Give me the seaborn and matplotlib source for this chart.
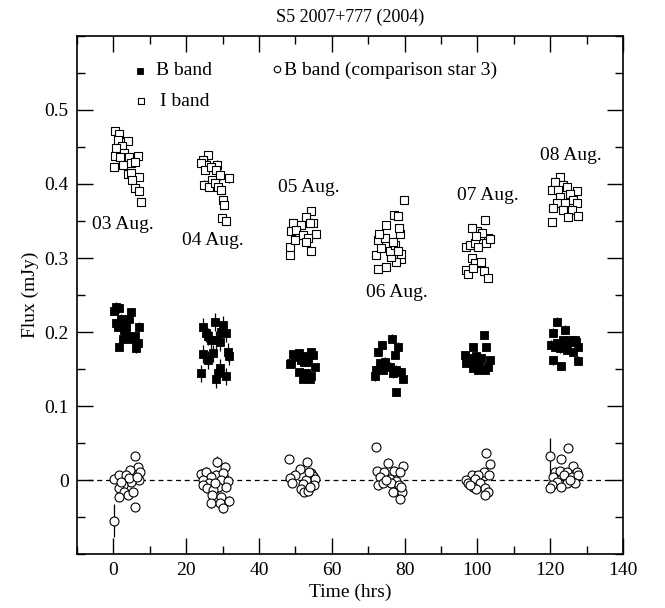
import numpy as np
import pandas as pd
import matplotlib
matplotlib.use("Agg")
import matplotlib.pyplot as plt
from matplotlib.ticker import MultipleLocator
import seaborn as sns

# ---------------- data ----------------
# B band (filled squares): time (hrs), flux (mJy)
b_t = [0.73, 1.65, 0.27, 4.85, 2.1, 4.4, 0.73, 3.5, 1.2, 7.15, 3.0, 3.5, 2.57, 3.9, 4.85, 5.8, 1.65, 6.7, 6.2,
       24.75, 25.5, 26.9, 28.2, 27.8, 30.1, 30.8, 29.2, 24.6, 26.0, 27.3, 31.4, 31.7, 24.1, 28.05, 29.2, 28.7, 31.0, 26.0, 29.6,
       49.3, 51.1, 48.85, 48.4, 53.0, 54.3, 54.8, 53.4, 55.3, 51.1, 53.0, 54.3, 52.1, 53.9, 52.5, 50.2, 51.6,
       76.6, 73.9, 72.7, 78.2, 77.3, 74.5, 73.2, 75.9, 72.2, 71.8, 74.1, 77.7, 79.1, 79.6, 76.8, 77.7,
       101.8, 98.8, 102.5, 96.5, 97.9, 99.7, 101.1, 103.4, 97.0, 98.8, 100.2, 102.0, 102.9, 98.4, 100.5, 99.3,
       121.9, 124.0, 120.7, 120.1, 121.8, 123.6, 125.4, 126.8, 122.7, 124.5, 126.3, 127.7, 120.7, 122.9, 127.7, 121.3, 125.0, 127.0]
b_f = [0.234, 0.232, 0.229, 0.227, 0.218, 0.218, 0.212, 0.209, 0.207, 0.207, 0.203, 0.198, 0.191, 0.194, 0.191, 0.194, 0.180, 0.185, 0.178,
       0.207, 0.198, 0.189, 0.189, 0.214, 0.209, 0.198, 0.187, 0.170, 0.162, 0.171, 0.173, 0.167, 0.144, 0.137, 0.151, 0.144, 0.140, 0.194, 0.200,
       0.170, 0.171, 0.158, 0.157, 0.167, 0.173, 0.169, 0.160, 0.153, 0.146, 0.144, 0.140, 0.137, 0.137, 0.160, 0.166, 0.162,
       0.191, 0.182, 0.173, 0.180, 0.169, 0.160, 0.158, 0.153, 0.149, 0.140, 0.149, 0.149, 0.146, 0.137, 0.144, 0.119,
       0.196, 0.180, 0.180, 0.169, 0.165, 0.167, 0.165, 0.162, 0.158, 0.151, 0.149, 0.149, 0.153, 0.160, 0.158, 0.162,
       0.214, 0.203, 0.199, 0.183, 0.185, 0.189, 0.189, 0.189, 0.178, 0.176, 0.173, 0.180, 0.162, 0.154, 0.161, 0.180, 0.186, 0.186]
# typical error per night (03 ... 08 Aug.)
b_err_night = [0.006, 0.012, 0.004, 0.006, 0.004, 0.006]

# I band (open squares)
i_t = [0.55, 1.47, 1.2, 3.9, 2.4, 0.73, 3.0, 0.55, 1.83, 4.4, 6.7, 2.75, 4.85, 5.8, 0.27, 3.9, 4.85, 7.15, 5.1, 6.05, 6.96, 7.6,
       25.9, 24.6, 25.5, 24.1, 28.5, 25.3, 26.9, 28.05, 29.2, 31.7, 27.1, 25.0, 26.4, 27.8, 28.7, 29.6, 30.1, 30.5, 29.8, 31.0,
       54.4, 53.0, 54.8, 55.6, 49.3, 51.6, 53.9, 48.9, 50.2, 48.4, 49.8, 52.1, 53.4, 54.4, 53.0, 48.4,
       72.7, 75.0, 72.2, 79.1, 77.7, 76.4, 73.6, 75.9, 79.1, 77.3, 78.7, 72.7, 74.5, 76.8, 78.2, 72.9, 79.8, 77.1, 78.2, 75.0, 78.5,
       97.0, 97.9, 99.3, 100.2, 101.1, 102.9, 102.5, 98.4, 99.3, 101.1, 97.0, 97.5, 98.8, 101.8, 102.8, 99.9, 101.4, 103.4, 102.0, 98.6, 99.5,
       122.7, 121.3, 123.6, 120.4, 122.2, 124.5, 127.3, 125.4, 122.7, 121.8, 124.0, 126.3, 127.3, 120.8, 123.6, 125.9, 124.9, 127.7, 120.4]
i_f = [0.471, 0.468, 0.459, 0.458, 0.451, 0.448, 0.442, 0.438, 0.437, 0.437, 0.438, 0.426, 0.428, 0.430, 0.423, 0.414, 0.415, 0.410, 0.405, 0.394, 0.391, 0.376,
       0.439, 0.432, 0.426, 0.428, 0.426, 0.419, 0.423, 0.419, 0.412, 0.408, 0.405, 0.399, 0.396, 0.401, 0.396, 0.392, 0.378, 0.372, 0.354, 0.350,
       0.363, 0.356, 0.347, 0.333, 0.347, 0.345, 0.347, 0.336, 0.338, 0.315, 0.324, 0.331, 0.327, 0.309, 0.322, 0.304,
       0.285, 0.288, 0.304, 0.298, 0.295, 0.302, 0.313, 0.309, 0.306, 0.318, 0.333, 0.324, 0.327, 0.321, 0.310, 0.333, 0.378, 0.358, 0.357, 0.345, 0.340,
       0.315, 0.318, 0.320, 0.315, 0.331, 0.327, 0.320, 0.300, 0.293, 0.295, 0.284, 0.279, 0.286, 0.283, 0.273, 0.336, 0.334, 0.325, 0.351, 0.341, 0.330,
       0.410, 0.403, 0.399, 0.392, 0.392, 0.396, 0.390, 0.387, 0.383, 0.374, 0.374, 0.378, 0.374, 0.367, 0.365, 0.365, 0.356, 0.357, 0.349]
i_err_night = [0.005, 0.006, 0.005, 0.005, 0.005, 0.005]

# B band comparison star 3 (open circles)
c_t = [0.07, 1.47, 6.05, 6.87, 7.4, 7.15, 4.58, 3.48, 4.85, 2.57, 1.65, 3.0, 3.9, 1.47, 5.5, 5.8, 0.07, 2.1, 4.4, 6.4,
       28.4, 30.7, 24.1, 25.5, 28.1, 26.9, 30.1, 24.6, 29.6, 31.4, 26.4, 24.6, 28.7, 31.0, 25.7, 27.3, 27.1, 29.6, 26.9, 29.2, 31.7, 30.1, 27.8,
       48.2, 51.3, 53.2, 49.8, 48.4, 49.1, 54.4, 54.8, 55.3, 53.0, 52.1, 55.0, 51.6, 52.5, 53.4, 54.1, 53.7,
       72.1, 75.4, 79.6, 72.4, 74.3, 77.1, 78.7, 73.2, 75.9, 77.7, 72.7, 74.1, 76.4, 78.5, 76.8, 79.4, 78.8, 75.0, 78.9,
       102.5, 103.4, 101.8, 103.1, 98.6, 100.2, 96.8, 97.5, 99.3, 100.8, 98.8, 99.7, 102.0, 102.9, 102.0, 97.9,
       119.9, 124.9, 123.1, 126.2, 121.3, 122.7, 124.7, 127.3, 120.7, 123.8, 125.9, 127.7, 121.8, 124.5, 126.8, 120.4, 122.9, 119.9, 125.4]
c_f = [0.002, 0.0068, 0.0325, 0.018, 0.0104, 0.0, 0.013, 0.0068, -0.0023, -0.0068, -0.011, -0.0158, -0.0203, -0.0225, -0.0158, -0.037, -0.055, -0.0023, 0.0023, 0.0045,
       0.025, 0.017, 0.0081, 0.011, 0.0068, 0.0045, 0.009, 0.0, 0.0, -0.0009, -0.0045, -0.0068, -0.009, -0.009, -0.011, -0.0135, -0.0203, -0.0234, -0.0315, -0.0306, -0.0284, -0.038, -0.0045,
       0.029, 0.0144, 0.024, 0.0068, 0.0023, -0.0036, 0.0099, 0.0054, 0.0009, 0.0, -0.0054, -0.0068, -0.0126, -0.0158, -0.015, -0.009, 0.011,
       0.045, 0.0225, 0.0189, 0.0122, 0.0113, 0.0126, 0.0113, 0.0045, 0.0009, -0.0009, -0.0068, -0.0045, -0.0045, -0.0068, -0.0158, -0.0158, -0.026, 0.0, -0.009,
       0.037, 0.021, 0.0113, 0.0068, 0.0068, 0.0068, 0.0, -0.0036, 0.0009, -0.0045, -0.009, -0.0126, -0.0113, -0.0158, -0.0203, -0.0068,
       0.0324, 0.0428, 0.0279, 0.0189, 0.0113, 0.0126, 0.0113, 0.0113, 0.0036, 0.0068, 0.0045, 0.0068, -0.0023, -0.0045, -0.0045, -0.0068, -0.009, -0.0113, 0.0]
c_err_night = [0.004, 0.007, 0.005, 0.005, 0.003, 0.004]
# a few comparison-star points with large error bars
c_big_err_t = [0.07, 119.9]
c_big_err_f = [-0.055, 0.0324]
c_big_err = [0.022, 0.025]

night_labels = ["03 Aug.", "04 Aug.", "05 Aug.", "06 Aug.", "07 Aug.", "08 Aug."]
night_label_x = [2.5, 27.2, 53.6, 77.8, 102.9, 125.7]
night_label_y = [0.345, 0.324, 0.395, 0.254, 0.385, 0.439]

title = "S5 2007+777 (2004)"
x_label = "Time (hrs)"
y_label = "Flux (mJy)"
x_ticks = [0, 20, 40, 60, 80, 100, 120, 140]
y_ticks = [0, 0.1, 0.2, 0.3, 0.4, 0.5]
x_lim = (-10, 140)
y_lim = (-0.1, 0.6)
zero_line_span = (-7, 136)


def frame(t, f, err_night):
    d = pd.DataFrame({"t": t, "f": f})
    night = np.clip(np.round(d["t"] / 24.0).astype(int), 0, 5)
    d["e"] = np.asarray(err_night)[night]
    return d


# ---------------- plotting ----------------
sns.set_style("ticks")
plt.rcParams["font.family"] = ["Liberation Serif", "DejaVu Serif"]
plt.rcParams["text.color"] = "black"
plt.rcParams["axes.labelcolor"] = "black"
plt.rcParams["xtick.color"] = "black"
plt.rcParams["ytick.color"] = "black"

df_b = frame(b_t, b_f, b_err_night)
df_i = frame(i_t, i_f, i_err_night)
df_c = frame(c_t, c_f, c_err_night)
for bt, bf, be in zip(c_big_err_t, c_big_err_f, c_big_err):
    df_c.loc[(df_c["t"] == bt) & (df_c["f"] == bf), "e"] = be

fig = plt.figure(figsize=(6.65, 6.08), dpi=100)
ax = fig.add_axes([0.1158, 0.0888, 0.821, 0.852])

ax.hlines(0, zero_line_span[0], zero_line_span[1], colors="black", linestyles=(0, (4, 3)), linewidth=0.9, zorder=1)

for d in (df_c, df_i, df_b):
    ax.errorbar(d["t"], d["f"], yerr=d["e"], fmt="none", ecolor="black", elinewidth=0.9, capsize=0, zorder=2)

sns.scatterplot(data=df_c, x="t", y="f", marker="o", s=42, facecolor="white", edgecolor="black", linewidth=0.8, ax=ax, zorder=3)
sns.scatterplot(data=df_i, x="t", y="f", marker="s", s=26, facecolor="white", edgecolor="black", linewidth=0.8, ax=ax, zorder=4)
sns.scatterplot(data=df_b, x="t", y="f", marker="s", s=30, facecolor="black", edgecolor="black", linewidth=0.6, ax=ax, zorder=5)

# legend-like entries drawn inside the axes
ax.scatter([7.4], [0.553], marker="s", s=22, facecolor="black", edgecolor="black", linewidth=0.6, zorder=6)
ax.text(11.6, 0.553, "B band", fontsize=14, va="center", ha="left", color="black")
ax.scatter([7.7], [0.512], marker="s", s=20, facecolor="white", edgecolor="black", linewidth=0.8, zorder=6)
ax.text(12.9, 0.512, "I band", fontsize=14, va="center", ha="left", color="black")
ax.scatter([44.9], [0.556], marker="o", s=22, facecolor="white", edgecolor="black", linewidth=0.8, zorder=6)
ax.text(46.8, 0.553, "B band (comparison star 3)", fontsize=14, va="center", ha="left", color="black")

for lab, lx, ly in zip(night_labels, night_label_x, night_label_y):
    ax.text(lx, ly, lab, fontsize=14, ha="center", va="center", color="black")

ax.set_xlim(*x_lim)
ax.set_ylim(*y_lim)
ax.set_xticks(x_ticks)
ax.set_yticks(y_ticks)
ax.set_yticklabels(["0" if v == 0 else f"{v:.1f}" for v in y_ticks])
ax.xaxis.set_minor_locator(MultipleLocator(10))
ax.yaxis.set_minor_locator(MultipleLocator(0.05))
ax.tick_params(which="both", direction="in", top=True, right=True, labelsize=14, width=1.0,
               colors="black", labelcolor="black")
ax.tick_params(which="major", length=11.5, pad=6)
ax.tick_params(which="minor", length=6)
for sp in ax.spines.values():
    sp.set_linewidth(1.2)
    sp.set_color("black")

ax.set_xlabel(x_label, fontsize=14, labelpad=3, color="black")
ax.set_ylabel(y_label, fontsize=14, labelpad=4, color="black")
ax.set_title(title, fontsize=13, pad=10, color="black")

fig.savefig("out.png", dpi=100)
